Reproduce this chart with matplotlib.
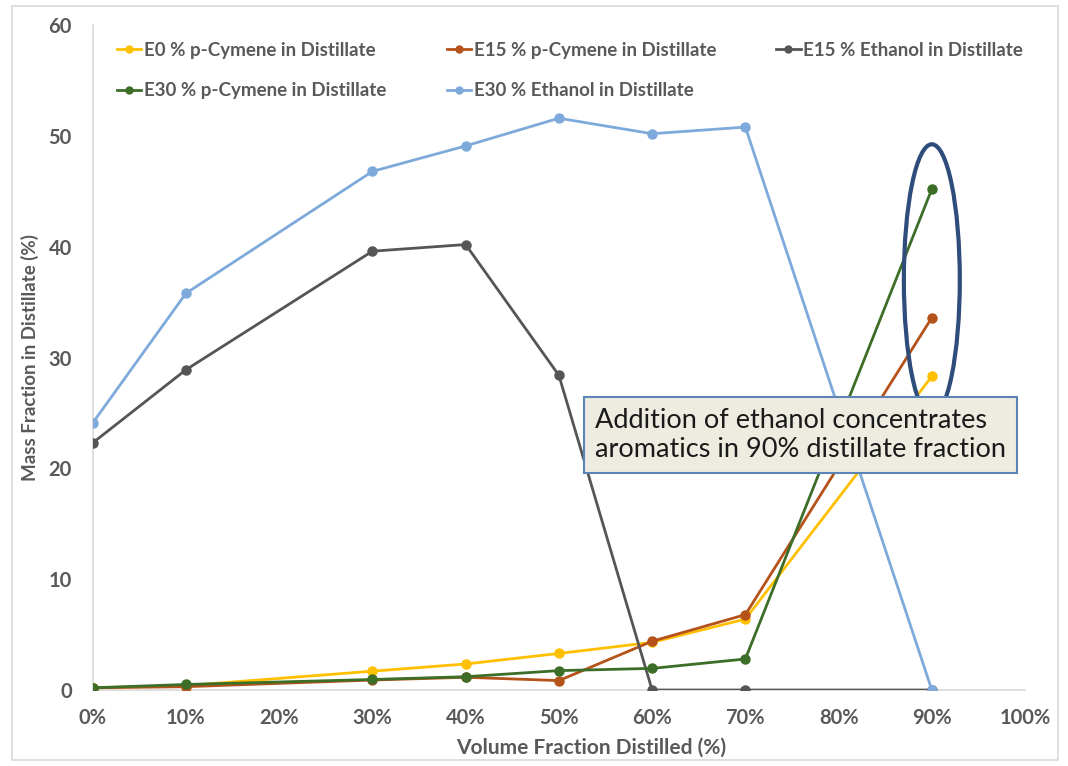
import matplotlib.pyplot as plt
from matplotlib.patches import Ellipse, Rectangle

# Volume fraction distilled (%) and the five measured series
x_pct = [0, 10, 30, 40, 50, 60, 70, 90]
e0_cymene = [0.2, 0.4, 1.7, 2.35, 3.3, 4.3, 6.4, 28.3]
e15_cymene = [0.2, 0.3, 0.9, 1.15, 0.85, 4.4, 6.8, 33.6]
e15_ethanol = [22.3, 28.9, 39.6, 40.2, 28.4, 0.0, 0.0, 0.0]
e30_cymene = [0.2, 0.5, 0.95, 1.2, 1.75, 1.95, 2.8, 45.2]
e30_ethanol = [24.1, 35.8, 46.8, 49.1, 51.6, 50.2, 50.8, 0.0]

labels = ['E0 % p-Cymene in Distillate', 'E15 % p-Cymene in Distillate',
          'E15 % Ethanol in Distillate', 'E30 % p-Cymene in Distillate',
          'E30 % Ethanol in Distillate']
colors = ['#FFC000', '#B4521A', '#555555', '#3D6E27', '#7DAADB']
series = [e0_cymene, e15_cymene, e15_ethanol, e30_cymene, e30_ethanol]

note = 'Addition of ethanol concentrates\naromatics in 90% distillate fraction'

plt.rcParams['font.family'] = ['Lato', 'DejaVu Sans']

fig = plt.figure(figsize=(10.68, 7.66), dpi=100)
ax = fig.add_axes([0.0868, 0.0992, 0.873, 0.868])

# light frame around the whole chart
fig.patches.append(Rectangle((0.011, 0.008), 0.98, 0.984, transform=fig.transFigure,
                             fill=False, edgecolor='#d9d9d9', linewidth=1.2))

handles = {}
for lab, col, ys in zip(labels, colors, series):
    h, = ax.plot(x_pct, ys, color=col, linewidth=2, marker='o', markersize=6.5,
                 label=lab, zorder=3)
    handles[lab] = h

ax.set_xlim(0, 100)
ax.set_ylim(0, 60)
ax.set_xticks(range(0, 101, 10))
ax.set_xticklabels([f'{v}%' for v in range(0, 101, 10)])
ax.set_yticks(range(0, 61, 10))
for s in ['top', 'right']:
    ax.spines[s].set_visible(False)
for s in ['left', 'bottom']:
    ax.spines[s].set_color('#d9d9d9')
    ax.spines[s].set_linewidth(1.2)
ax.tick_params(length=0, labelsize=14.5, labelcolor='#595959')
ax.tick_params(axis='x', pad=13)
ax.tick_params(axis='y', pad=15)
for t in ax.get_xticklabels() + ax.get_yticklabels():
    t.set_fontweight('bold')

ax.set_xlabel('Volume Fraction Distilled (%)', fontsize=15, fontweight='bold',
              color='#595959', labelpad=3)
ax.xaxis.set_label_coords(0.535, -0.072)
ax.set_ylabel('Mass Fraction in Distillate (%)', fontsize=13.5, fontweight='bold',
              color='#595959', labelpad=7)

# legend: 3 columns, row 1 = first three, row 2 = last two
order = [labels[0], labels[3], labels[1], labels[4], labels[2]]
leg = ax.legend([handles[k] for k in order], order, ncol=3, loc='upper left',
                bbox_to_anchor=(0.008, 1.0), frameon=False, fontsize=13.5,
                handlelength=1.3, columnspacing=3.2, labelspacing=1.25,
                handletextpad=0.15)
for t in leg.get_texts():
    t.set_color('#595959')
    t.set_fontweight('bold')
for h in leg.legend_handles:
    h.set_markersize(5)

# highlight the 90% points
ax.add_patch(Ellipse((90, 37.0), 6.0, 24.5, fill=False, edgecolor='#2E4D7B',
                     linewidth=3, zorder=4))

ax.text(53.9, 23.0, note, fontsize=19.5, color='#1a1a1a', ha='left', va='center',
        linespacing=1.2, zorder=6,
        bbox=dict(boxstyle='square,pad=0.4', facecolor='#EEECE1',
                  edgecolor='#5B84B8', linewidth=1.5))

fig.savefig('out.png', dpi=100)
